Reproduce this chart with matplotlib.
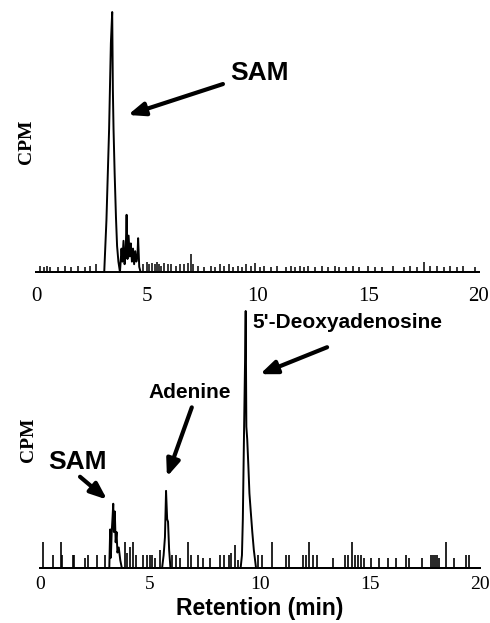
import matplotlib
matplotlib.use("Agg")
import matplotlib.pyplot as plt

# ---- top panel (SAM only) ----
top_peak_x = [0, 3.08, 3.18, 3.30, 3.38, 3.44, 3.47, 3.50, 3.55, 3.61, 3.66, 3.72, 3.79,
              3.86, 3.90, 3.95, 4.00, 4.05, 4.09, 4.13, 4.18, 4.23, 4.28, 4.33, 4.38,
              4.43, 4.48, 4.53, 4.58, 4.61, 4.66, 4.72, 20]
top_peak_y = [0, 0, 20, 55, 88, 100, 70, 55, 38, 21, 10, 4, 0,
              9, 4, 12, 3, 8, 22, 5, 14, 6, 11, 4, 9,
              3, 8, 4, 6, 13, 2, 0, 0]
top_noise_x = [0.2, 0.35, 0.5, 0.65, 1.0, 1.3, 1.6, 1.9, 2.2, 2.45, 2.7,
               4.85, 5.0, 5.1, 5.25, 5.35, 5.45, 5.55, 5.65, 5.8, 5.95, 6.1, 6.3,
               6.5, 6.7, 6.85, 7.0, 7.1, 7.3, 7.6, 7.9, 8.1, 8.3, 8.5, 8.7, 8.9,
               9.1, 9.3, 9.5, 9.7, 9.9, 10.1, 10.3, 10.6, 10.9, 11.3, 11.5, 11.7,
               11.9, 12.1, 12.3, 12.6, 12.9, 13.2, 13.5, 13.7, 14.0, 14.3, 14.6,
               15.0, 15.3, 15.6, 16.1, 16.6, 16.9, 17.2, 17.5, 17.8, 18.1, 18.4,
               18.7, 19.0, 19.3, 19.8]
top_noise_h = [2.5, 2, 2.5, 2, 2, 2.5, 2, 2.5, 2, 2.5, 3,
               3, 4, 3, 3.5, 3, 4, 3, 2.5, 3.5, 3, 3, 2.5,
               3, 3, 3.5, 7, 3, 2.5, 2, 2.5, 2, 3, 2.5, 3, 2,
               2.5, 2, 3, 2.5, 3.5, 2, 2.5, 2, 2.5, 2, 2.5, 2,
               2.5, 2, 2.5, 2, 2.5, 2, 2.5, 2, 2, 2.5, 2,
               2.5, 2, 2, 2.5, 2, 2.5, 2, 4, 2.5, 2.5, 2,
               2.5, 2, 2.5, 2]

# ---- bottom panel ----
bot_peak_x = [0, 3.15, 3.19, 3.22, 3.26, 3.30, 3.33, 3.36, 3.40, 3.44, 3.48, 3.52, 3.58,
              3.65, 3.72, 5.55, 5.62, 5.68, 5.73, 5.78, 5.82, 5.87, 5.93,
              9.12, 9.18, 9.22, 9.27, 9.32, 9.35, 9.38, 9.42, 9.47, 9.52, 9.58, 9.65,
              9.72, 9.82, 20]
bot_peak_y = [0, 0, 15, 4, 14, 20, 25, 14, 22, 10, 14, 6, 8,
              3, 0, 0, 5, 12, 30, 19, 18, 7, 0,
              0, 5, 19, 50, 80, 100, 55, 50, 40, 29, 22, 14,
              7, 0, 0]
bot_noise_x = [0.15, 0.6, 0.95, 1.0, 1.5, 1.55, 2.05, 2.2, 2.6, 2.95, 3.85, 3.95, 4.1,
               4.25, 4.35, 4.7, 4.85, 5.0, 5.1, 5.25, 5.45, 6.0, 6.2, 6.35, 6.75,
               6.85, 7.2, 7.4, 7.75, 8.2, 8.35, 8.6, 8.7, 8.85, 9.0, 9.9, 10.1,
               10.55, 11.2, 11.3, 11.95, 12.1, 12.25, 12.4, 12.6, 13.3, 13.85, 14.0,
               14.2, 14.3, 14.45, 14.6, 14.75, 15.05, 15.4, 15.8, 16.2, 16.65, 16.75,
               17.35, 17.75, 17.85, 17.95, 18.05, 18.15, 18.45, 18.8, 19.35, 19.5]
bot_noise_h = [10, 5, 10, 5, 5, 5, 4, 5, 5, 5, 10, 6, 8,
               10, 5, 5, 5, 5, 5, 4, 7, 5, 5, 4, 10,
               5, 5, 4, 4, 5, 5, 5, 6, 9, 3, 5, 5,
               10, 5, 5, 5, 5, 10, 5, 5, 4, 5, 5,
               10, 5, 5, 5, 4, 4, 4, 4, 4, 5, 4,
               4, 5, 5, 5, 5, 4, 10, 4, 5, 5]

ticks = [0, 5, 10, 15, 20]

serif = "Liberation Serif"
sans = "Liberation Sans"

fig = plt.figure(figsize=(4.9, 6.23), dpi=100)
ax1 = fig.add_axes([0.0735, 0.5634, 0.904, 0.4173])
ax2 = fig.add_axes([0.0816, 0.0883, 0.898, 0.4125])


def style(ax, pad, fs):
    ax.set_xlim(0, 20)
    ax.set_ylim(0, 100)
    for s in ["top", "right", "left"]:
        ax.spines[s].set_visible(False)
    ax.spines["bottom"].set_linewidth(1.4)
    ax.set_yticks([])
    ax.set_xticks(ticks)
    ax.set_xticklabels([str(t) for t in ticks], fontfamily=serif, fontsize=fs)
    ax.tick_params(axis="x", length=0, pad=pad)


ax1.plot(top_peak_x, top_peak_y, color="black", lw=1.4, clip_on=False)
ax1.vlines(top_noise_x, 0, top_noise_h, color="black", lw=1.1)
style(ax1, 11, 15)
ax1.set_ylabel("CPM", fontfamily=serif, fontweight="bold", fontsize=14, labelpad=1)
ax1.annotate("", xy=(4.15, 60.4), xytext=(8.44, 72.3),
             arrowprops=dict(arrowstyle="-|>,head_length=1.0,head_width=0.4",
                             lw=3, color="black", shrinkA=0, shrinkB=0))
ax1.text(10.1, 76.5, "SAM", fontfamily=sans, fontweight="bold", fontsize=19,
         ha="center", va="center")

ax2.plot(bot_peak_x, bot_peak_y, color="black", lw=1.4, clip_on=False)
ax2.vlines(bot_noise_x, 0, bot_noise_h, color="black", lw=1.2)
style(ax2, 6, 14)
ax2.set_ylabel("CPM", fontfamily=serif, fontweight="bold", fontsize=14, labelpad=2)
ax2.set_xlabel("Retention (min)", fontfamily=sans, fontweight="bold", fontsize=16.5,
               labelpad=3)

arrow = dict(arrowstyle="-|>,head_length=1.0,head_width=0.4", lw=3, color="black",
             shrinkA=0, shrinkB=0)
ax2.text(9.64, 95.7, "5'-Deoxyadenosine", fontfamily=sans, fontweight="bold",
         fontsize=15, ha="left", va="center")
ax2.annotate("", xy=(10.0, 75.4), xytext=(13.05, 85.9), arrowprops=arrow)
ax2.text(6.82, 68.4, "Adenine", fontfamily=sans, fontweight="bold", fontsize=15,
         ha="center", va="center")
ax2.annotate("", xy=(5.77, 35.5), xytext=(6.9, 62.5), arrowprops=arrow)
ax2.text(1.7, 41.4, "SAM", fontfamily=sans, fontweight="bold", fontsize=19,
         ha="center", va="center")
ax2.annotate("", xy=(3.05, 26.6), xytext=(1.82, 35.5), arrowprops=arrow)

fig.savefig("out.png", dpi=100)
